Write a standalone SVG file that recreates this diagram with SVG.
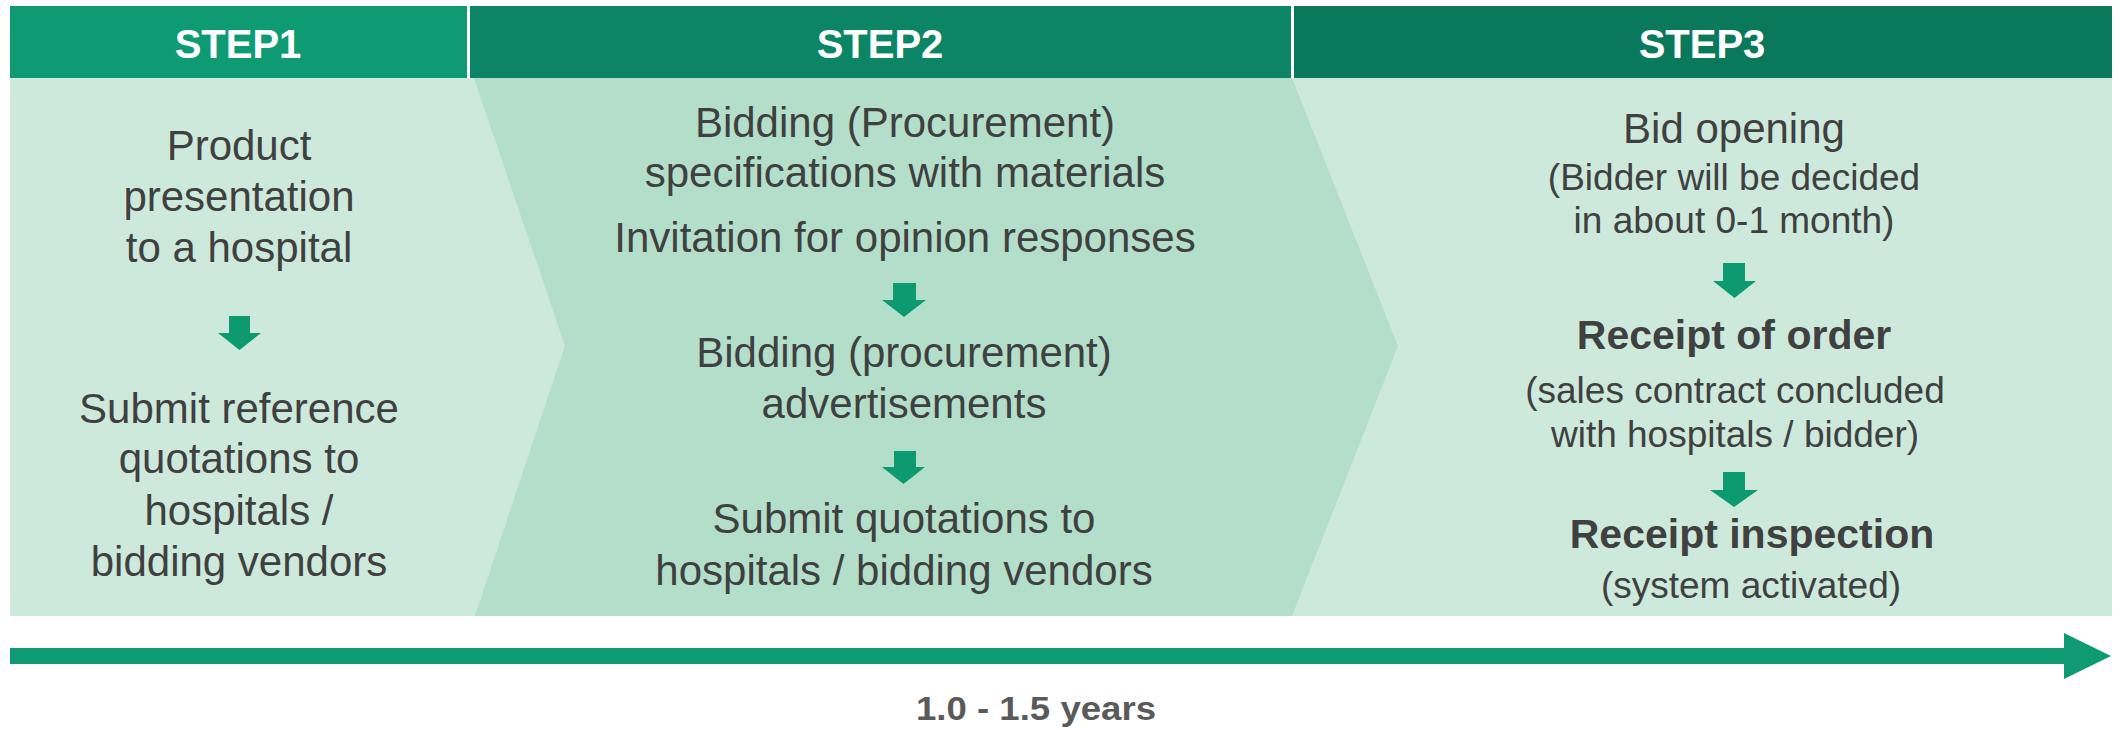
<svg xmlns="http://www.w3.org/2000/svg" width="2120" height="730" viewBox="0 0 2120 730">
<style>
.hd{font-family:"Liberation Sans",Arial,sans-serif;font-weight:bold;font-size:40px;fill:#ffffff;text-anchor:middle}
.t{font-family:"Liberation Sans",Arial,sans-serif;font-size:42px;fill:#404040;text-anchor:middle}
.s{font-family:"Liberation Sans",Arial,sans-serif;font-size:37px;fill:#404040;text-anchor:middle}
.b{font-family:"Liberation Sans",Arial,sans-serif;font-size:41px;font-weight:bold;fill:#404040;text-anchor:middle}
.lbl{font-family:"Liberation Sans",Arial,sans-serif;font-size:34px;font-weight:bold;fill:#5a5a5a;text-anchor:middle}
.dn{fill:#0e9a70}
</style>
<rect width="2120" height="730" fill="#ffffff"/>
<g id="body">
<rect x="10" y="78" width="2102" height="538" fill="#cde9db"/>
<polygon points="474,78 1292,78 1398,346 1292,616 475,616 565,346" fill="#b3dfca"/>
</g>
<g id="step1">
<rect x="10" y="6" width="457" height="72" fill="#0e9b74"/>
<text class="hd" x="238" y="58">STEP1</text>
<text class="t" x="239" y="160">Product</text>
<text class="t" x="239" y="211">presentation</text>
<text class="t" x="239" y="262">to a hospital</text>
<text class="t" x="239" y="423">Submit reference</text>
<text class="t" x="239" y="473">quotations to</text>
<text class="t" x="239" y="525">hospitals /</text>
<text class="t" x="239" y="576">bidding vendors</text>
</g>
<g id="step2">
<rect x="470" y="6" width="821" height="72" fill="#0b8565"/>
<text class="hd" x="880" y="58">STEP2</text>
<text class="t" x="905" y="137">Bidding (Procurement)</text>
<text class="t" x="905" y="187">specifications with materials</text>
<text class="t" x="905" y="252">Invitation for opinion responses</text>
<text class="t" x="904" y="367">Bidding (procurement)</text>
<text class="t" x="904" y="418">advertisements</text>
<text class="t" x="904" y="533">Submit quotations to</text>
<text class="t" x="904" y="585">hospitals / bidding vendors</text>
</g>
<g id="step3">
<rect x="1294" y="6" width="818" height="72" fill="#09785b"/>
<text class="hd" x="1702" y="58">STEP3</text>
<text class="t" x="1734" y="143">Bid opening</text>
<text class="s" x="1734" y="190">(Bidder will be decided</text>
<text class="s" x="1734" y="233">in about 0-1 month)</text>
<text class="b" x="1734" y="349">Receipt of order</text>
<text class="s" x="1735" y="403">(sales contract concluded</text>
<text class="s" x="1735" y="447">with hospitals / bidder)</text>
<text class="b" x="1752" y="548">Receipt inspection</text>
<text class="s" x="1751" y="598">(system activated)</text>
</g>
<g id="connectors">
<path class="dn" d="M229,316 H250 V333 H261 L239.5,350 L218,333 H229 Z"/>
<path class="dn" d="M893,283 H916 V300 H926 L904,317 L882,300 H893 Z"/>
<path class="dn" d="M894,451 H916 V467 H925 L903.5,484 L882,467 H894 Z"/>
<path class="dn" d="M1723,263 H1745 V281 H1756 L1734.5,298 L1713,281 H1723 Z"/>
<path class="dn" d="M1723,472 H1745 V490 H1758 L1734,507 L1710,490 H1723 Z"/>
</g>
<g id="timeline">
<rect x="10" y="648" width="2056" height="16" fill="#0e9a72"/>
<polygon points="2064,633 2111,656 2064,679" fill="#0e9a72"/>
<text class="lbl" x="1036" y="720" textLength="240" lengthAdjust="spacingAndGlyphs">1.0 - 1.5 years</text>
</g>
</svg>
